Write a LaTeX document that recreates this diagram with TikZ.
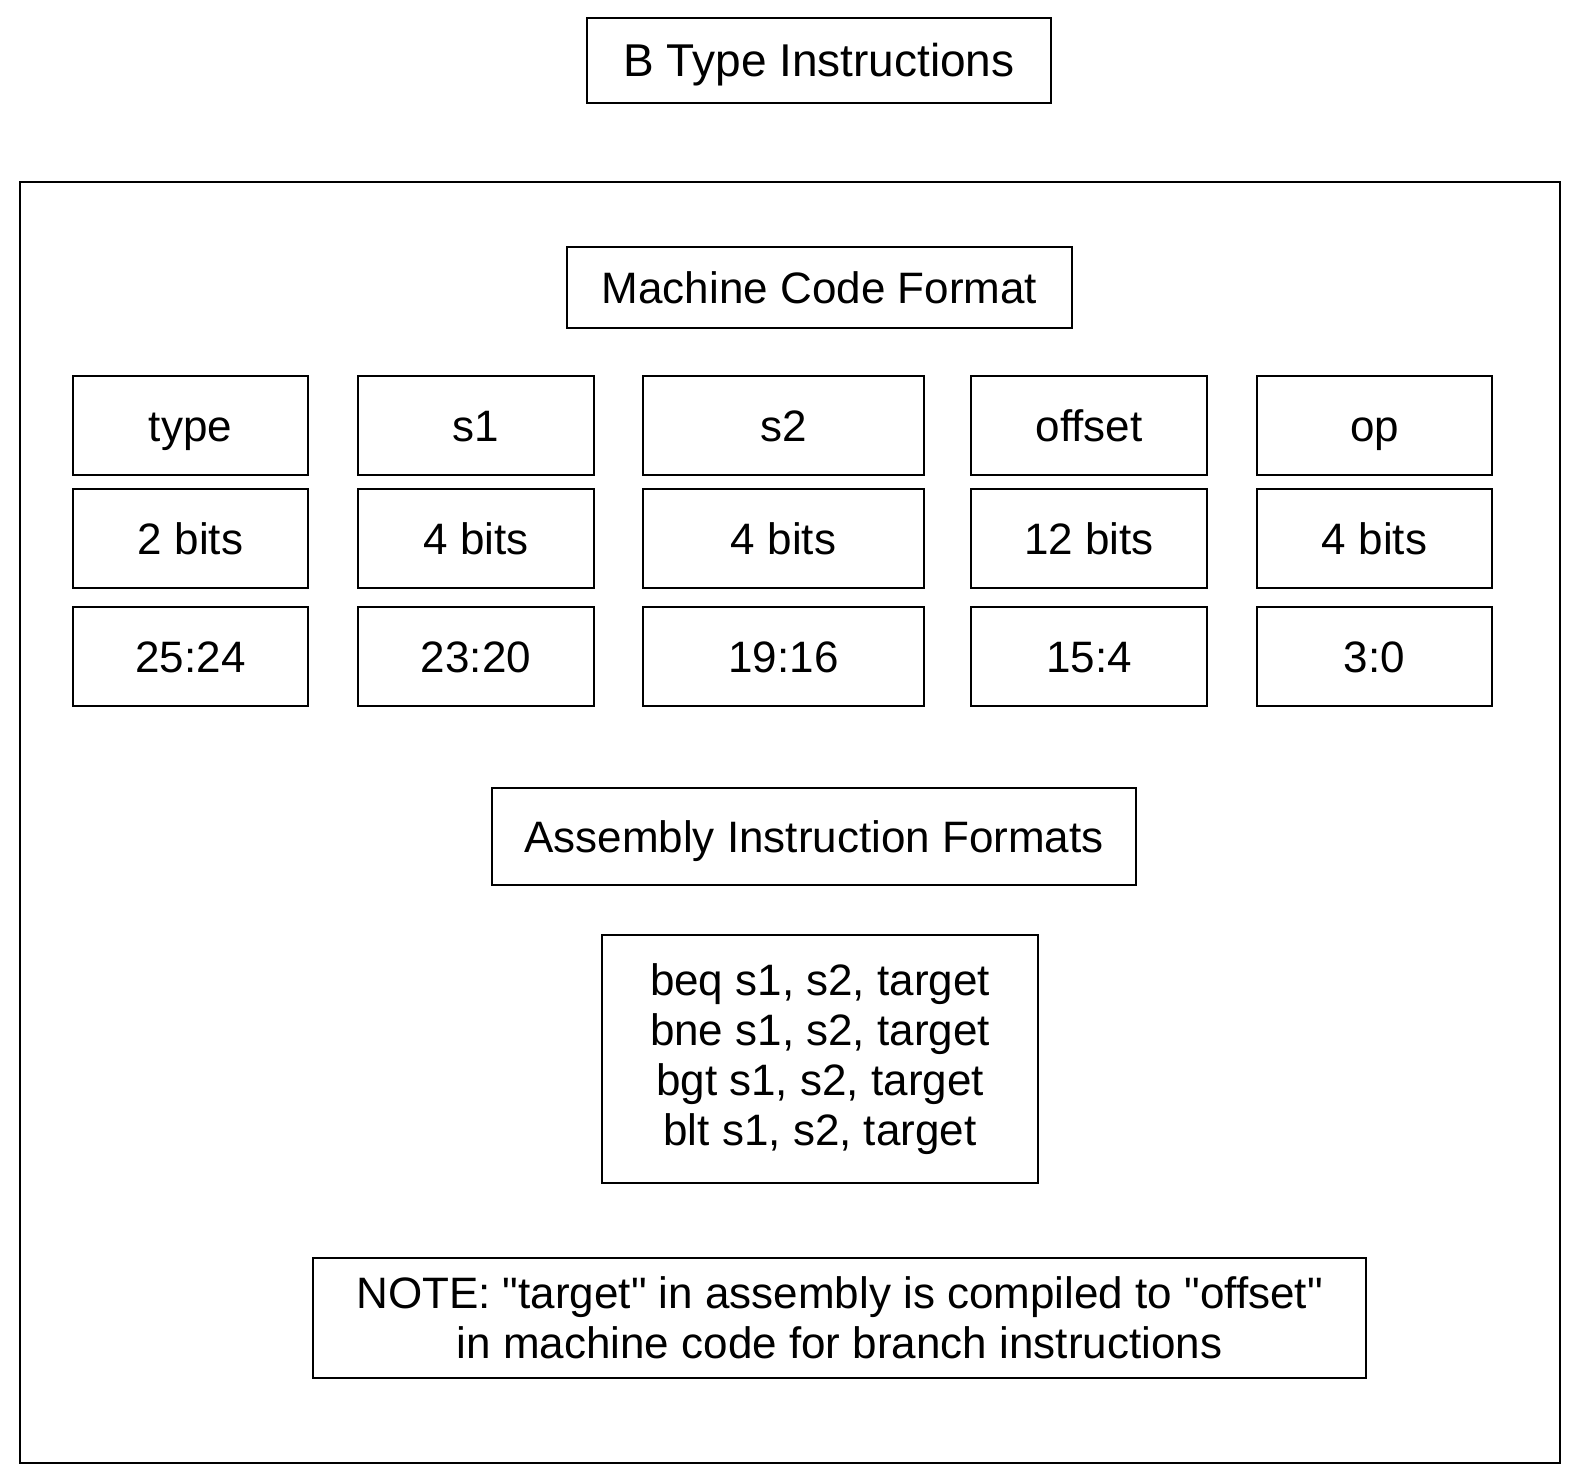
\documentclass[tikz,border=0pt]{standalone}
\usepackage{fontspec}
\setmainfont{Liberation Sans}[Ligatures=TeXOff]
\begin{document}
\begin{tikzpicture}[x=0.5pt,y=-0.5pt,
  box/.style 2 args={draw=black, line width=1.1pt, minimum width=#1*0.5pt, minimum height=#2*0.5pt, inner sep=0pt, align=center,
    font=\fontsize{22pt}{25pt}\selectfont},
  cell/.style={text height=18pt, text depth=2pt},
]
\useasboundingbox[fill=white] (0,0) rectangle (1580,1483);
\node[box={464}{85}, font=\fontsize{23pt}{26pt}\selectfont, cell] (title) at (819,60.5) {B Type Instructions};
\node[box={1540}{1281}] (frame) at (790,822.5) {};
\node[box={505}{81}, cell] (mcf) at (819.5,287.5) {Machine Code Format};
% row 1
\node[box={235}{99}, cell] (t1) at (190.5,425.5) {type};
\node[box={236}{99}, cell] (s1a) at (476,425.5) {s1};
\node[box={281}{99}, cell] (s2a) at (783.5,425.5) {s2};
\node[box={236}{99}, cell] (oa) at (1089,425.5) {offset};
\node[box={235}{99}, cell] (opa) at (1374.5,425.5) {op};
% row 2
\node[box={235}{99}, cell] (t2) at (190.5,538.5) {2 bits};
\node[box={236}{99}, cell] (s1b) at (476,538.5) {4 bits};
\node[box={281}{99}, cell] (s2b) at (783.5,538.5) {4 bits};
\node[box={236}{99}, cell] (ob) at (1089,538.5) {12 bits};
\node[box={235}{99}, cell] (opb) at (1374.5,538.5) {4 bits};
% row 3
\node[box={235}{99}, cell] (t3) at (190.5,656.5) {25:24};
\node[box={236}{99}, cell] (s1c) at (476,656.5) {23:20};
\node[box={281}{99}, cell] (s2c) at (783.5,656.5) {19:16};
\node[box={236}{99}, cell] (oc) at (1089,656.5) {15:4};
\node[box={235}{99}, cell] (opc) at (1374.5,656.5) {3:0};
\node[box={644}{97}, cell] (aif) at (814,836.5) {Assembly Instruction Formats};
\node[box={436}{248}] (code) at (820,1059) {beq s1, s2, target\\bne s1, s2, target\\bgt s1, s2, target\\blt s1, s2, target};
\node[box={1053}{120}] (note) at (839.5,1318) {NOTE: "target" in assembly is compiled to "offset"\\in machine code for branch instructions};
\end{tikzpicture}
\end{document}
